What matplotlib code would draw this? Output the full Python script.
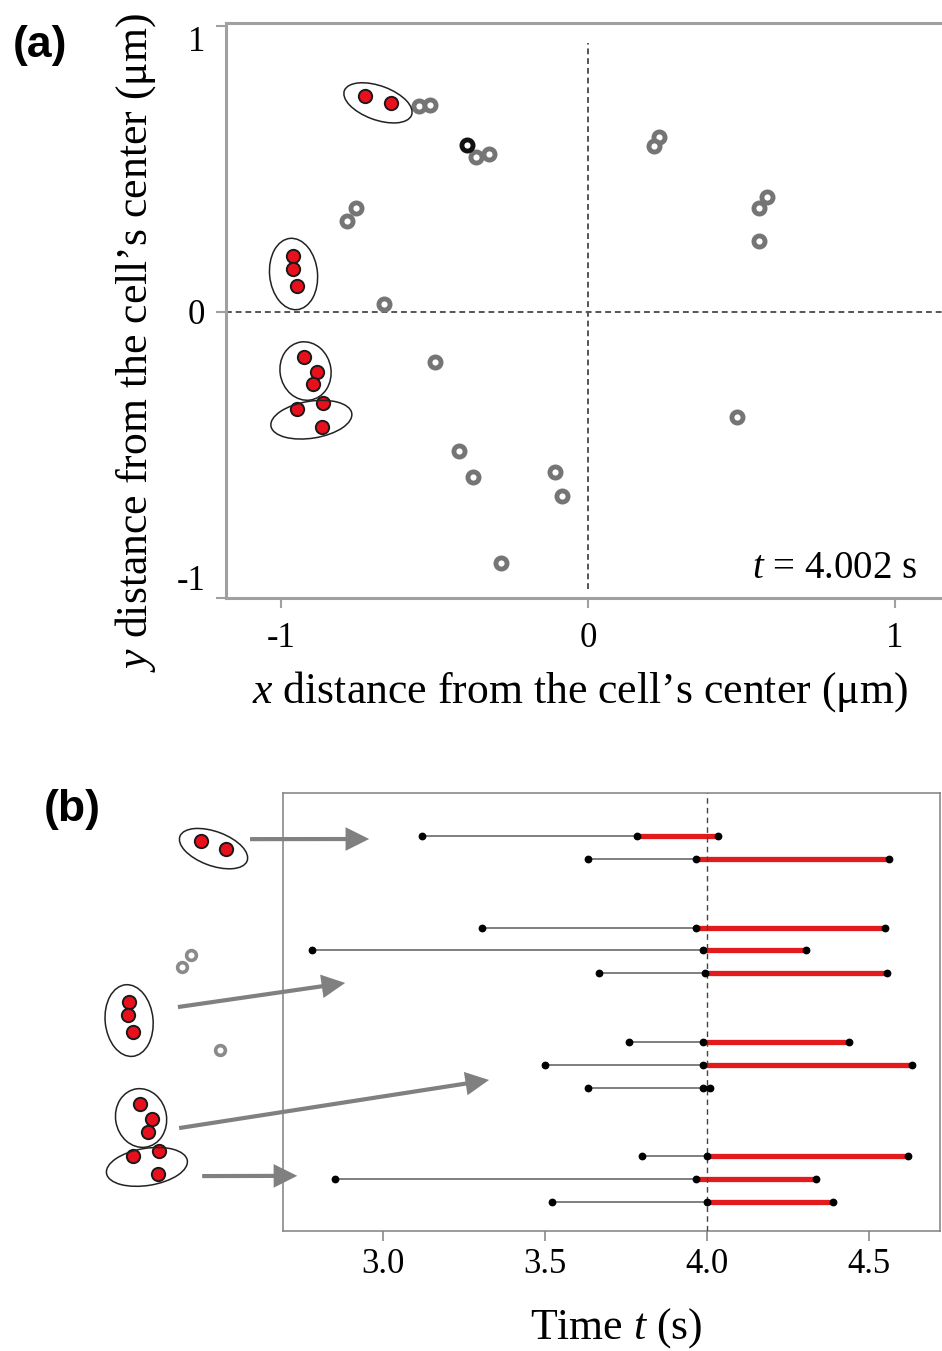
import matplotlib.pyplot as plt
from matplotlib.patches import Ellipse

plt.rcParams['font.family'] = 'Liberation Serif'
plt.rcParams['mathtext.fontset'] = 'custom'
plt.rcParams['mathtext.rm'] = 'Liberation Serif'
plt.rcParams['mathtext.it'] = 'Liberation Serif:italic'
plt.rcParams['axes.unicode_minus'] = False

# ---- panel (a): positions at t = 4.002 s (um from the cell's center) ----
red_x = [-0.726, -0.643, -0.960, -0.962, -0.947, -0.925, -0.884, -0.897, -0.947, -0.862, -0.865]
red_y = [0.755, 0.729, 0.196, 0.150, 0.091, -0.158, -0.210, -0.254, -0.340, -0.320, -0.401]

gray_x = [-0.550, -0.515, -0.365, -0.322, -0.756, -0.786, -0.664, -0.498, -0.419, -0.376,
          -0.107, -0.086, -0.283, 0.232, 0.215, 0.584, 0.556, 0.558, 0.484]
gray_y = [0.720, 0.723, 0.542, 0.550, 0.361, 0.318, 0.028, -0.177, -0.486, -0.578,
          -0.560, -0.645, -0.879, 0.610, 0.578, 0.402, 0.362, 0.247, -0.368]
dark_x = [-0.393]
dark_y = [0.584]

# clusters drawn as ellipses
clus_x = [-0.684, -0.959, -0.920, -0.901]
clus_y = [0.730, 0.132, -0.207, -0.377]
clus_w = [0.235, 0.156, 0.166, 0.267]
clus_h = [0.118, 0.250, 0.205, 0.129]
clus_ang = [-22, 5, 8, 10]

# gray spots repeated next to panel (b)
gray_near = [4, 5, 6]

ticks_a = [-1, 0, 1]
tick_labels_a = ['-1', '0', '1']

# ---- panel (b): tracks (row, start, binding start, end) ----
track_row = [0, 1, 4, 5, 6, 9, 10, 11, 14, 15, 16]
t_start = [3.120, 3.633, 3.305, 2.779, 3.665, 3.758, 3.500, 3.631, 3.799, 2.852, 3.522]
t_bind = [3.785, 3.965, 3.965, 3.988, 3.995, 3.986, 3.986, 3.986, 3.999, 3.966, 3.999]
t_end = [4.033, 4.561, 4.550, 4.304, 4.555, 4.439, 4.633, 4.008, 4.620, 4.337, 4.390]
t_now = 4.0

ticks_b = [3.0, 3.5, 4.0, 4.5]
tick_labels_b = ['3.0', '3.5', '4.0', '4.5']

# arrows from each cluster to its group of tracks
arrow_from_x = [-0.565, -0.800, -0.796, -0.721]
arrow_from_y = [0.763, 0.179, -0.242, -0.409]
arrow_to_t = [2.957, 2.883, 3.327, 2.735]
arrow_to_row = [0.13, 6.42, 10.66, 14.85]

W, H = 942, 1351


def px_box(l, t, r, b):
    return [l / W, 1 - b / H, (r - l) / W, (b - t) / H]


def draw_clusters(axis, gx, gy, gray_ms, gray_mew, gray_col):
    axis.plot(gx, gy, 'o', ms=gray_ms, mfc='white', mec=gray_col, mew=gray_mew, ls='none', zorder=3)
    axis.plot(red_x, red_y, 'o', ms=9.6, mfc='#e8101c', mec='#1a1a1a', mew=1.4, ls='none', zorder=4)
    for cx, cy, w, h, a in zip(clus_x, clus_y, clus_w, clus_h, clus_ang):
        axis.add_patch(Ellipse((cx, cy), w, h, angle=a, fill=False, ec='#222222', lw=1.1, zorder=5))


fig = plt.figure(figsize=(W / 100, H / 100), dpi=100)

# panel (a)
ax = fig.add_axes(px_box(226, 23, 942, 598))
ax.set_xlim(-1.179, 1.153)
ax.set_ylim(-0.991, 1.009)
ax.axhline(0, color='#555555', lw=1.4, ls=(0, (3, 2)), zorder=1)
ax.plot([0, 0], [-0.97, 0.94], color='#555555', lw=1.4, ls=(0, (3, 2)), zorder=1)
draw_clusters(ax, gray_x, gray_y, 8, 3.5, '#757575')
ax.plot(dark_x, dark_y, 'o', ms=8, mfc='white', mec='#111111', mew=3.5, zorder=3)

for side in ['top', 'bottom', 'left']:
    ax.spines[side].set_color('#a0a0a0')
    ax.spines[side].set_linewidth(2.2)
ax.spines['right'].set_visible(False)
ax.set_xticks(ticks_a)
ax.set_xticklabels(tick_labels_a)
ax.set_yticks(ticks_a)
ax.set_yticklabels(tick_labels_a)
ax.tick_params(direction='out', length=7, width=1.5, color='#a0a0a0', labelsize=25)
ax.tick_params(axis='x', pad=10)
ax.tick_params(axis='y', pad=8)
ylabs = ax.get_yticklabels()
ylabs[0].set_va('bottom')
ylabs[2].set_va('top')

ax.set_xlabel('$x$ distance from the cell\u2019s center (\u03bcm)', fontsize=31.5, va='center')
ax.xaxis.set_label_coords(0.494, -0.163)
ax.set_ylabel('$y$ distance from the cell\u2019s center (\u03bcm)', fontsize=31.5, va='center')
ax.yaxis.set_label_coords(-0.127, 0.445)
ax.text(0.965, 0.052, '$t$ = 4.002 s', transform=ax.transAxes, fontsize=28, ha='right', va='center')

# panel (b)
bx = fig.add_axes(px_box(283, 793, 940, 1231))
bx.set_xlim(2.691, 4.719)
bx.set_ylim(17.26, -1.88)
for row, t0, t1, t2 in zip(track_row, t_start, t_bind, t_end):
    bx.plot([t0, t1], [row, row], color='#7f7f7f', lw=1.4, zorder=2)
    bx.plot([t1, t2], [row, row], color='#e31a1c', lw=3.8, solid_capstyle='butt', zorder=3)
bx.plot(t_start + t_bind + t_end, track_row * 3, 'o', ms=4.6, color='black', ls='none', zorder=5)
bx.axvline(t_now, color='#444444', lw=1, ls=(0, (4, 3)), zorder=4)

for side in bx.spines:
    bx.spines[side].set_color('#808080')
    bx.spines[side].set_linewidth(1.1)
bx.set_yticks([])
bx.set_xticks(ticks_b)
bx.set_xticklabels(tick_labels_b)
bx.tick_params(direction='out', length=7, width=1.1, color='#808080', labelsize=25, pad=5)
bx.set_xlabel('Time $t$ (s)', fontsize=31.5, va='center')
bx.xaxis.set_label_coords(0.507, -0.221)

# clusters repeated on the left of panel (b), same scale as panel (a)
ix = fig.add_axes(px_box(75.5, 805.5, 305.5, 1205.5))
ix.set_xlim(-1.1336, -0.3844)
ix.set_ylim(-0.5113, 0.880)
ix.axis('off')
draw_clusters(ix, [gray_x[i] for i in gray_near], [gray_y[i] for i in gray_near], 7, 2.6, '#8a8a8a')

for fx, fy, tt, tr in zip(arrow_from_x, arrow_from_y, arrow_to_t, arrow_to_row):
    bx.annotate('', xy=(tt, tr), xycoords='data', xytext=(fx, fy), textcoords=ix.transData,
                arrowprops=dict(arrowstyle='simple,head_length=0.85,head_width=0.85,tail_width=0.15',
                                fc='#808080', ec='none', shrinkA=0, shrinkB=0, mutation_scale=20),
                annotation_clip=False)

fig.text(40 / W, 1 - 46 / H, '(a)', fontfamily='Liberation Sans', fontweight='bold',
         fontsize=32, ha='center', va='center')
fig.text(72 / W, 1 - 810 / H, '(b)', fontfamily='Liberation Sans', fontweight='bold',
         fontsize=32, ha='center', va='center')

fig.savefig('out.png', dpi=100)
